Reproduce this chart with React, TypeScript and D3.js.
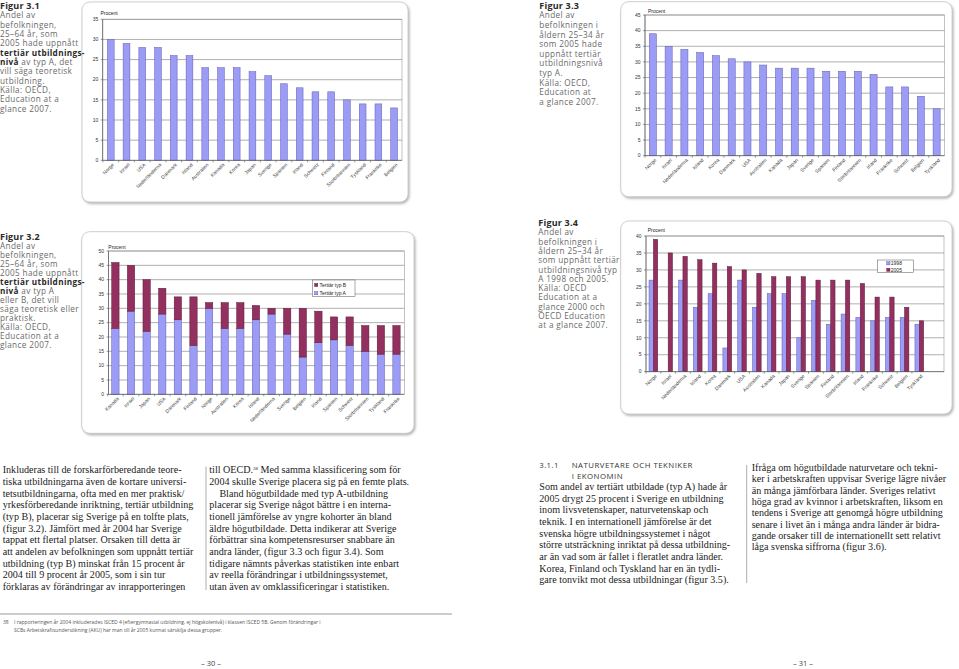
import React from 'react';
import * as d3 from 'd3';

// ---------- DATA ----------
const fig31Countries = ['Norge', 'Israel', 'USA', 'Nederländerna', 'Danmark', 'Island', 'Australien', 'Kanada', 'Korea', 'Japan', 'Sverige', 'Spanien', 'Irland', 'Schweiz', 'Finland', 'Storbritannien', 'Tyskland', 'Frankrike', 'Belgien'];
const fig31TypA = [30, 29, 28, 28, 26, 26, 23, 23, 23, 22, 21, 19, 18, 17, 17, 15, 14, 14, 13];

const fig33Countries = ['Norge', 'Israel', 'Nederländerna', 'Island', 'Korea', 'Danmark', 'USA', 'Australien', 'Kanada', 'Japan', 'Sverige', 'Spanien', 'Finland', 'Storbritannien', 'Irland', 'Frankrike', 'Schweiz', 'Belgien', 'Tyskland'];
const fig33TypA = [39, 35, 34, 33, 32, 31, 30, 29, 28, 28, 28, 27, 27, 27, 26, 22, 22, 19, 15];

const fig32Countries = ['Kanada', 'Israel', 'Japan', 'USA', 'Danmark', 'Finland', 'Norge', 'Australien', 'Korea', 'Island', 'Nederländerna', 'Sverige', 'Belgien', 'Irland', 'Spanien', 'Schweiz', 'Storbritannien', 'Tyskland', 'Frankrike'];
const fig32TypA = [23, 29, 22, 28, 26, 17, 30, 23, 23, 26, 28, 21, 13, 18, 19, 17, 15, 14, 14];
const fig32TypB = [23, 16, 18, 9, 8, 17, 2, 9, 9, 5, 2, 9, 17, 11, 8, 10, 9, 10, 10];

const fig34Countries = ['Norge', 'Israel', 'Nederländerna', 'Island', 'Korea', 'Danmark', 'USA', 'Australien', 'Kanada', 'Japan', 'Sverige', 'Spanien', 'Finland', 'Storbritannien', 'Irland', 'Frankrike', 'Schweiz', 'Belgien', 'Tyskland'];
const fig34Y1998: (number | null)[] = [27, null, 27, 19, 23, 7, 27, 19, 23, 23, 10, 21, 14, 17, 16, 15, 16, 16, 14];
const fig34Y2005 = [39, 35, 34, 33, 32, 31, 30, 29, 28, 28, 28, 27, 27, 27, 26, 22, 22, 19, 15];

const yUnit = 'Procent';
const legend32 = ['Tertiär typ B', 'Tertiär typ A'];
const legend34 = ['1998', '2005'];

// ---------- TEXT ----------
type Seg = [string, boolean];
const cap31: Seg[][] = [
  [['Figur 3.1', true]], [['Andel av', false]], [['befolkningen,', false]], [['25–64 år, som', false]],
  [['2005 hade uppnått', false]], [['tertiär utbildnings-', true]], [['nivå', true], [' av typ A, det', false]],
  [['vill säga teoretisk', false]], [['utbildning.', false]], [['Källa: OECD,', false]], [['Education at a', false]], [['glance 2007.', false]],
];
const cap33: Seg[][] = [
  [['Figur 3.3', true]], [['Andel av', false]], [['befolkningen i', false]], [['åldern 25–34 år', false]],
  [['som 2005 hade', false]], [['uppnått tertiär', false]], [['utbildningsnivå', false]], [['typ A.', false]],
  [['Källa: OECD,', false]], [['Education at', false]], [['a glance 2007.', false]],
];
const cap32: Seg[][] = [
  [['Figur 3.2', true]], [['Andel av', false]], [['befolkningen,', false]], [['25–64 år, som', false]],
  [['2005 hade uppnått', false]], [['tertiär utbildnings-', true]], [['nivå', true], [' av typ A', false]],
  [['eller B, det vill', false]], [['säga teoretisk eller', false]], [['praktisk.', false]], [['Källa: OECD,', false]],
  [['Education at a', false]], [['glance 2007.', false]],
];
const cap34: Seg[][] = [
  [['Figur 3.4', true]], [['Andel av', false]], [['befolkningen i', false]], [['åldern 25–34 år', false]],
  [['som uppnått tertiär', false]], [['utbildningsnivå typ', false]], [['A 1998 och 2005.', false]],
  [['Källa: OECD', false]], [['Education at a', false]], [['glance 2000 och', false]], [['OECD Education', false]], [['at a glance 2007.', false]],
];

const col1 = [
  'Inkluderas till de forskarförberedande teore-',
  'tiska utbildningarna även de kortare universi-',
  'tetsutbildningarna, ofta med en mer praktisk/',
  'yrkesförberedande inriktning, tertiär utbildning',
  '(typ B), placerar sig Sverige på en tolfte plats,',
  '(figur 3.2). Jämfört med år 2004 har Sverige',
  'tappat ett flertal platser. Orsaken till detta är',
  'att andelen av befolkningen som uppnått tertiär',
  'utbildning (typ B) minskat från 15 procent år',
  '2004 till 9 procent år 2005, som i sin tur',
  'förklaras av förändringar av inrapporteringen',
];
const col2 = [
  '2004 skulle Sverige placera sig på en femte plats.',
  '    Bland högutbildade med typ A-utbildning',
  'placerar sig Sverige något bättre i en interna-',
  'tionell jämförelse av yngre kohorter än bland',
  'äldre högutbildade. Detta indikerar att Sverige',
  'förbättrar sina kompetensresurser snabbare än',
  'andra länder, (figur 3.3 och figur 3.4). Som',
  'tidigare nämnts påverkas statistiken inte enbart',
  'av reella förändringar i utbildningssystemet,',
  'utan även av omklassificeringar i statistiken.',
];
const col3 = [
  'Som andel av tertiärt utbildade (typ A) hade år',
  '2005 drygt 25 procent i Sverige en utbildning',
  'inom livsvetenskaper, naturvetenskap och',
  'teknik. I en internationell jämförelse är det',
  'svenska högre utbildningssystemet i något',
  'större utsträckning inriktat på dessa utbildning-',
  'ar än vad som är fallet i fleratlet andra länder.',
  'Korea, Finland och Tyskland har en än tydli-',
  'gare tonvikt mot dessa utbildningar (figur 3.5).',
];
const col4 = [
  'Ifråga om högutbildade naturvetare och tekni-',
  'ker i arbetskraften uppvisar Sverige lägre nivåer',
  'än många jämförbara länder. Sveriges relativt',
  'höga grad av kvinnor i arbetskraften, liksom en',
  'tendens i Sverige att genomgå högre utbildning',
  'senare i livet än i många andra länder är bidra-',
  'gande orsaker till de internationellt sett relativt',
  'låga svenska siffrorna (figur 3.6).',
];
const footnote = [
  'I rapporteringen år 2004 inkluderades ISCED 4 (eftergymnasial utbildning, ej högskolenivå) i klassen ISCED 5B. Genom förändringar i',
  'SCBs Arbetskraftsundersökning (AKU) har man till år 2005 kunnat särskilja dessa grupper.',
];

// ---------- STYLE ----------
const BLUE = '#9c9cf6';
const BLUE_S = '#5c5cb0';
const MAROON = '#93305f';
const MAROON_S = '#5a1a3a';
const SANS = 'Liberation Sans, Arial, sans-serif';
const CAPF = 'Open Sans, Lato, sans-serif';
const SERIF = 'Liberation Serif, Times New Roman, serif';
const BODY = 10.1;

type Series = { values: (number | null)[]; fill: string; stroke: string };

function BarChart(props: {
  frame: { x: number; y: number; w: number; h: number };
  axisX: number; gridX1: number; band: [number, number]; yTop: number; y0: number; max: number;
  categories: string[]; series: Series[]; mode: 'single' | 'stacked' | 'grouped'; pad: number;
  procent: [number, number];
  legend?: { x: number; y: number; w: number; h: number; mx: number; tx: number; rows: number[]; items: string[]; colors: Series[] };
}) {
  const { frame, axisX, gridX1, band, yTop, y0, max, categories, series, mode, pad, procent, legend } = props;
  const x = d3.scaleBand<string>().domain(categories).range(band).paddingInner(pad).paddingOuter(pad / 2);
  const y = d3.scaleLinear().domain([0, max]).range([y0, yTop]);
  const ticks = d3.range(0, max + 1, 5);
  const inner = d3.scaleBand<number>().domain(series.map((_, i) => i)).range([0, x.bandwidth()]);
  const step = x.step();
  const bars: JSX.Element[] = [];
  categories.forEach((c, ci) => {
    let acc = 0;
    series.forEach((s, si) => {
      const v = s.values[ci];
      if (v == null) return;
      let bx = x(c)!, bw = x.bandwidth(), top: number, bottom: number;
      if (mode === 'stacked') {
        bottom = y(acc); top = y(acc + v); acc += v;
      } else {
        bottom = y(0); top = y(v);
        if (mode === 'grouped') { bx = x(c)! + inner(si)!; bw = inner.bandwidth(); }
      }
      bars.push(<rect key={c + si} x={bx} y={top} width={bw} height={bottom - top} fill={s.fill} stroke={s.stroke} strokeWidth={0.5} />);
    });
  });
  return (
    <g>
      <rect x={frame.x} y={frame.y} width={frame.w} height={frame.h} rx={8} fill="#fff" stroke="#c4c4c4" strokeWidth={0.8} filter="url(#sh)" />
      <rect x={axisX} y={yTop} width={gridX1 - axisX} height={y0 - yTop} fill="#fff" stroke="#9a9a9a" strokeWidth={0.6} />
      {ticks.map((t) => (
        <g key={t}>
          {t > 0 && <line x1={axisX} x2={gridX1} y1={y(t)} y2={y(t)} stroke="#8c8c8c" strokeWidth={0.7} />}
          <line x1={axisX - 2} x2={axisX} y1={y(t)} y2={y(t)} stroke="#555" strokeWidth={0.6} />
          <text x={axisX - 4.5} y={y(t)} dy="0.35em" textAnchor="end" fontFamily={SANS} fontSize={5} fill="#333">{t}</text>
        </g>
      ))}
      {bars}
      <line x1={axisX} x2={axisX} y1={yTop} y2={y0} stroke="#555" strokeWidth={0.7} />
      <line x1={axisX} x2={gridX1} y1={y0} y2={y0} stroke="#555" strokeWidth={0.7} />
      {categories.map((c, i) => (
        <line key={'t' + c} x1={band[0] + i * step} x2={band[0] + i * step} y1={y0} y2={y0 + 2} stroke="#555" strokeWidth={0.6} />
      ))}
      {categories.map((c) => {
        const cx = x(c)! + x.bandwidth() / 2;
        return (
          <text key={'l' + c} transform={`translate(${cx + 2.5},${y0 + 3.5}) rotate(-45)`} textAnchor="end" dy="0.35em" fontFamily={SANS} fontSize={5} fill="#444">{c}</text>
        );
      })}
      <text x={procent[0]} y={procent[1]} fontFamily={SANS} fontSize={5} fill="#222">{yUnit}</text>
      {legend && (
        <g>
          <rect x={legend.x} y={legend.y} width={legend.w} height={legend.h} fill="#fff" stroke="#555" strokeWidth={0.5} />
          {legend.items.map((it, i) => (
            <g key={it}>
              <rect x={legend.mx} y={legend.rows[i] - 1.6} width={3.2} height={3.2} fill={legend.colors[i].fill} stroke={legend.colors[i].stroke} strokeWidth={0.4} />
              <text x={legend.tx} y={legend.rows[i]} dy="0.35em" fontFamily={SANS} fontSize={5} fill="#222">{it}</text>
            </g>
          ))}
        </g>
      )}
    </g>
  );
}

function Caption({ x, y, lh, lines }: { x: number; y: number; lh: number; lines: Seg[][] }) {
  return (
    <g>
      {lines.map((ln, i) => (
        <text key={i} x={x} y={y + i * lh} fontFamily={CAPF} fontSize={i === 0 ? 9 : 8.2} letterSpacing={i === 0 ? 0.2 : 0.35} fill="#6a6a6a">
          {ln.map((s, j) => (
            <tspan key={j} fontWeight={s[1] ? 700 : 400} fill={s[1] ? '#2a2a2a' : '#6a6a6a'}>{s[0]}</tspan>
          ))}
        </text>
      ))}
    </g>
  );
}

function Column({ x, y, lh, lines }: { x: number; y: number; lh: number; lines: string[] }) {
  return (
    <g>
      {lines.map((l, i) => (
        <text key={i} x={x} y={y + i * lh} fontFamily={SERIF} fontSize={BODY} fill="#222" xmlSpace="preserve" style={{ whiteSpace: 'pre' }}>{l}</text>
      ))}
    </g>
  );
}

export default function App() {
  const blue: Series = { values: [], fill: BLUE, stroke: BLUE_S };
  const maroon: Series = { values: [], fill: MAROON, stroke: MAROON_S };
  return (
    <svg width={959} height={669} viewBox="0 0 959 669" style={{ position: 'absolute', left: 0, top: 0, background: '#fff' }}>
      <defs>
        <filter id="sh" x="-5%" y="-5%" width="112%" height="112%">
          <feDropShadow dx={1.2} dy={1.6} stdDeviation={1} floodColor="#777" floodOpacity={0.55} />
        </filter>
      </defs>
      <rect width={959} height={669} fill="#fff" />

      <BarChart frame={{ x: 82, y: 2, w: 326, h: 200 }} axisX={102.7} gridX1={402} band={[102.9, 402]} yTop={19.3} y0={160.3} max={35}
        categories={fig31Countries} series={[{ ...blue, values: fig31TypA }]} mode="single" pad={0.57} procent={[100.5, 14.6]} />
      <BarChart frame={{ x: 620.7, y: 1.7, w: 331.3, h: 195 }} axisX={645} gridX1={944.5} band={[645, 944.5]} yTop={15} y0={155.7} max={45}
        categories={fig33Countries} series={[{ ...blue, values: fig33TypA }]} mode="single" pad={0.55} procent={[648, 12.8]} />
      <BarChart frame={{ x: 81.7, y: 231.7, w: 332.3, h: 201.6 }} axisX={108.5} gridX1={404.3} band={[107.6, 404.3]} yTop={251} y0={394.3} max={50}
        categories={fig32Countries} series={[{ ...blue, values: fig32TypA }, { ...maroon, values: fig32TypB }]} mode="stacked" pad={0.53} procent={[108.3, 248.5]}
        legend={{ x: 312.3, y: 280, w: 42.7, h: 16.7, mx: 314.6, tx: 319.5, rows: [285, 293.2], items: legend32, colors: [maroon, blue] }} />
      <BarChart frame={{ x: 620.7, y: 221, w: 331.3, h: 193 }} axisX={646} gridX1={944} band={[646, 926.7]} yTop={236} y0={371.7} max={40}
        categories={fig34Countries} series={[{ ...blue, values: fig34Y1998 }, { ...maroon, values: fig34Y2005 }]} mode="grouped" pad={0.41} procent={[647.7, 231.8]}
        legend={{ x: 877.3, y: 260, w: 36, h: 12.7, mx: 886.8, tx: 890.8, rows: [263.3, 269.8], items: legend34, colors: [blue, maroon] }} />

      <Caption x={0} y={8.8} lh={9.35} lines={cap31} />
      <Caption x={539.3} y={8.8} lh={9.6} lines={cap33} />
      <Caption x={0} y={240} lh={9.0} lines={cap32} />
      <Caption x={538.3} y={226} lh={9.3} lines={cap34} />

      <Column x={2.7} y={473.3} lh={11.67} lines={col1} />
      <text x={209.3} y={473.3} fontFamily={SERIF} fontSize={BODY} fill="#222">
        till OECD.<tspan fontSize={5} dy={-3.5}>38</tspan><tspan dy={3.5}> Med samma klassificering som för</tspan>
      </text>
      <Column x={209.3} y={473.3 + 11.67} lh={11.67} lines={col2} />
      <line x1={206} x2={206} y1={466.5} y2={590} stroke="#777" strokeWidth={0.6} />

      <text x={539.3} y={467.8} fontFamily={CAPF} fontSize={7.8} letterSpacing={0.4} fill="#333">3.1.1</text>
      <text x={571.7} y={467.8} fontFamily={CAPF} fontSize={7.8} letterSpacing={0.5} fill="#333">NATURVETARE OCH TEKNIKER</text>
      <text x={571.7} y={479.3} fontFamily={CAPF} fontSize={7.8} letterSpacing={0.5} fill="#333">I EKONOMIN</text>
      <Column x={539.3} y={490} lh={11.67} lines={col3} />
      <line x1={746.7} x2={746.7} y1={465} y2={583} stroke="#777" strokeWidth={0.6} />
      <Column x={751.7} y={471} lh={11.3} lines={col4} />

      <line x1={0} x2={452} y1={614} y2={614} stroke="#9a9a9a" strokeWidth={1} />
      <text x={3} y={623.5} fontFamily={CAPF} fontSize={5} fill="#555">38</text>
      {footnote.map((f, i) => (
        <text key={i} x={14} y={623.5 + i * 8.5} fontFamily={CAPF} fontSize={5} fill="#555">{f}</text>
      ))}
      <text x={211} y={666} textAnchor="middle" fontFamily={CAPF} fontSize={7.5} fill="#444">– 30 –</text>
      <text x={803} y={666} textAnchor="middle" fontFamily={CAPF} fontSize={7.5} fill="#444">– 31 –</text>
    </svg>
  );
}
